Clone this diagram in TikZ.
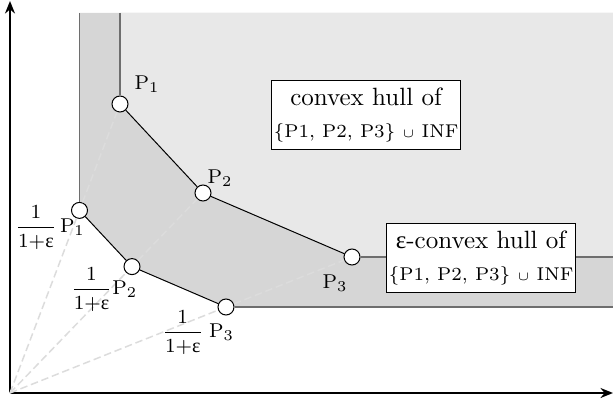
\documentclass[tikz,border=0pt]{standalone}
\usepackage{amsmath}
\usepackage{fontspec}
\newfontfamily\greekfont{Liberation Serif}
\usetikzlibrary{arrows.meta,backgrounds}
\definecolor{HullLight}{HTML}{E8E8E8}
\definecolor{HullDark}{HTML}{D6D6D6}
\definecolor{EdgeGray}{HTML}{6E6E6E}
\definecolor{RayGray}{HTML}{DCDCDC}
\newcommand{\eps}{\text{\greekfont ε}}
\newcommand{\hullset}{{\fontsize{7.4}{8}\selectfont\{P1, P2, P3\} $\scriptstyle\cup$ INF}}
\newcommand{\shrink}{\dfrac{1}{1{+}\eps}}

\begin{document}
\begin{tikzpicture}[
    x=0.4pt, y=0.4pt,
    pt/.style={circle,draw,fill=white,inner sep=0pt,minimum size=6.4pt},
    hullbox/.style={draw,fill=white,align=center,minimum width=74.4pt,minimum height=27.6pt,inner sep=1pt},
    lbl/.style={font=\footnotesize,inner sep=0pt},
    ray/.style={RayGray,semithick,dash pattern=on 3pt off 1.5pt},
    edge/.style={EdgeGray,semithick},
    axis/.style={-{Stealth[length=5pt,width=4pt]},thick}
  ]
    \useasboundingbox (-10,-14) rectangle (603,393);
    % corner points of the two hulls
    \coordinate (o) at (0,0);
    \coordinate (ytop) at (0,392);
    \coordinate (xend) at (603,0);
    \coordinate (t1) at (110,380);
    \coordinate (t1s) at (69.5,380);
    \coordinate (r3) at (603,136);
    \coordinate (r3s) at (603,86);
    \coordinate (tr) at (603,380);

    \node[pt] (p1) at (110,289) {};
    \node[pt] (p2) at (193,200) {};
    \node[pt] (p3) at (342,136) {};
    \node[pt] (p1s) at (69.5,182.6) {};
    \node[pt] (p2s) at (122,126.4) {};
    \node[pt] (p3s) at (216,86) {};

    \begin{scope}[on background layer]
      \fill[HullDark] (t1s) -- (p1s.center) -- (p2s.center) -- (p3s.center) -- (r3s) -- (tr) -- cycle;
      \fill[HullLight] (t1) -- (p1.center) -- (p2.center) -- (p3.center) -- (r3) -- (tr) -- cycle;
    \end{scope}

    % axes
    \draw[axis] (o) -- (ytop);
    \draw[axis] (o) -- (xend);

    % rays through the points
    \foreach \i in {1,2,3} {
      \draw[ray] (o) -- (p\i s);
      \draw[ray] (p\i s) -- (p\i);
    }

    % hull boundaries
    \draw[edge] (t1) -- (p1);
    \draw[edge] (p3) -- (r3);
    \draw[edge] (t1s) -- (p1s);
    \draw[edge] (p3s) -- (r3s);
    \draw (p1) -- (p2) -- (p3);
    \draw (p1s) -- (p2s) -- (p3s);

    \node[hullbox] (hull) at (356,278) {convex hull of\\[1pt] \hullset};
    \node[hullbox] (ehull) at (471,135) {{\greekfont ε}-convex hull of\\[1pt] \hullset};

    \node[lbl] (lp1) at (137,309) {P$_1$};
    \node[lbl] (lp2) at (210,215) {P$_2$};
    \node[lbl] (lp3) at (325,110) {P$_3$};
    \node[lbl] (lq1) at (40,165) {$\shrink$\,P$_1$};
    \node[lbl] (lq2) at (94,103) {$\shrink$P$_2$};
    \node[lbl] (lq3) at (188,60) {$\shrink$\;P$_3$};
  \end{tikzpicture}
\end{document}
